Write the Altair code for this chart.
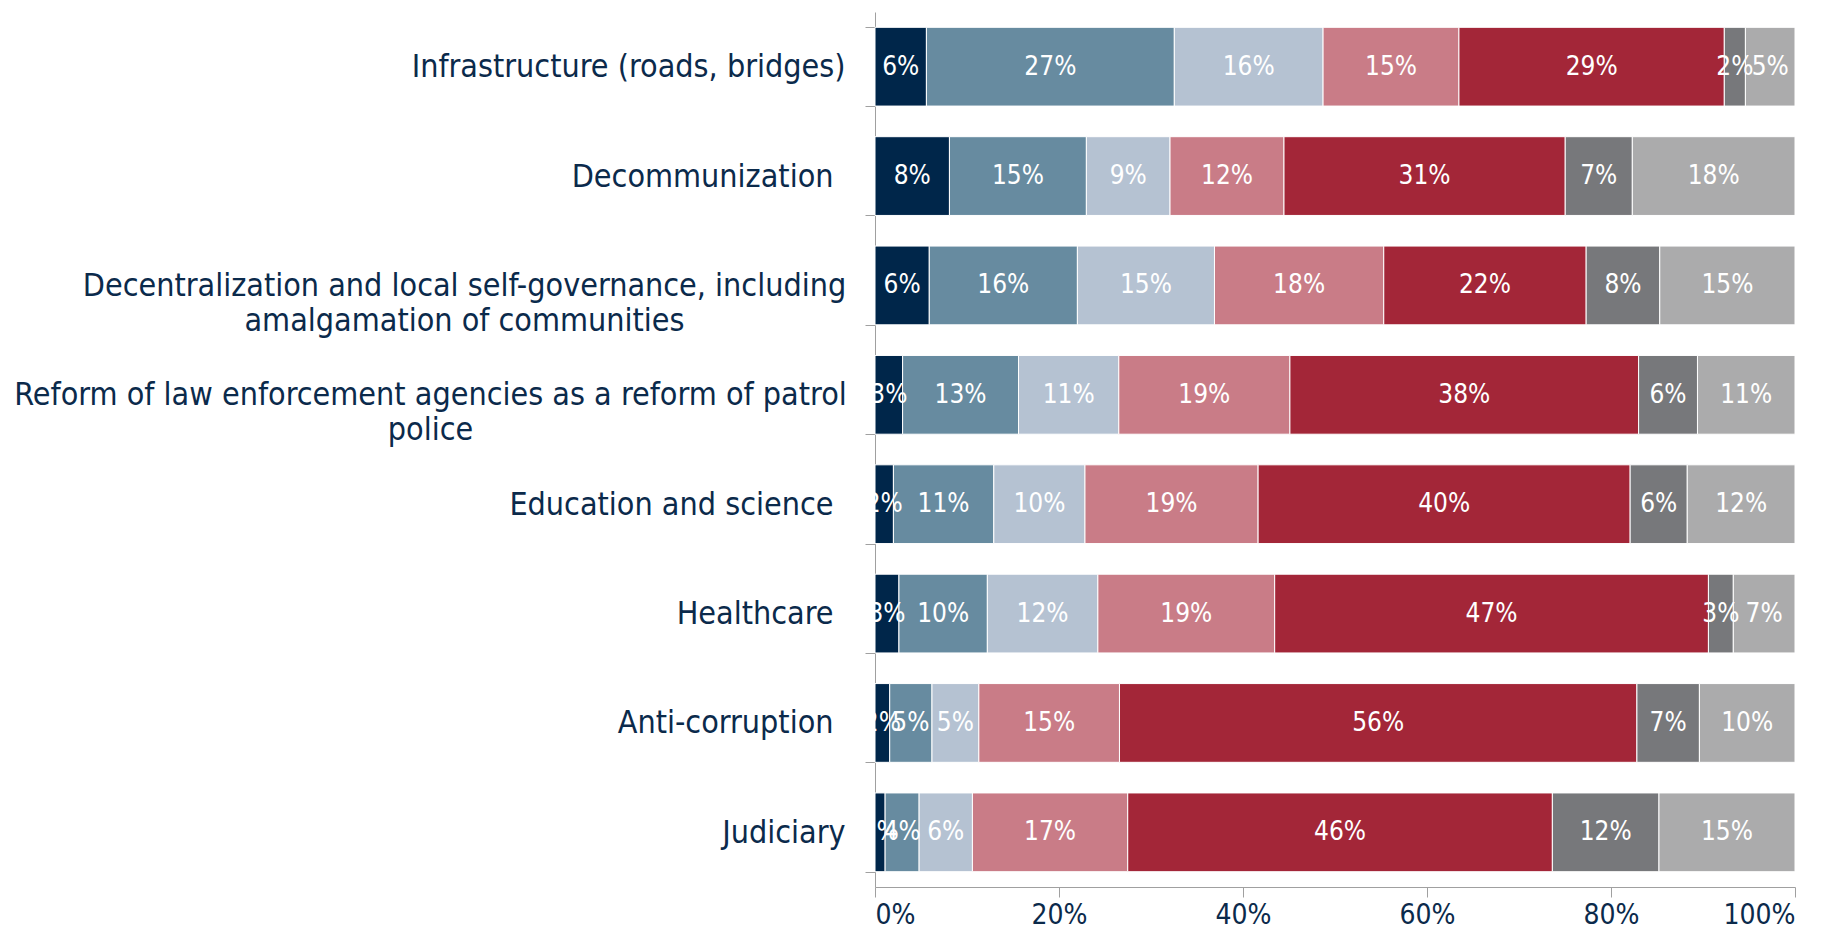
import json
import altair as alt
import pandas as pd

categories = [
    "Infrastructure (roads, bridges)",
    "Decommunization",
    "Decentralization and local self-governance, including amalgamation of communities",
    "Reform of law enforcement agencies as a reform of patrol police",
    "Education and science",
    "Healthcare",
    "Anti-corruption",
    "Judiciary",
]

series = [
    "Fully successful",
    "Rather successful",
    "Partially successful",
    "Rather unsuccessful",
    "Completely unsuccessful",
    "Not started",
    "Difficult to answer",
]

colors = ["#00264A", "#678BA0", "#B5C2D2", "#C97C87", "#A32638", "#77787B", "#ABABAC"]

infrastructure = [5.6, 27.0, 16.2, 14.8, 28.9, 2.3, 5.4]
decommunization = [8.1, 14.9, 9.1, 12.4, 30.6, 7.3, 17.7]
decentralization = [5.9, 16.1, 14.9, 18.4, 22.0, 8.0, 14.7]
law_enforcement = [3.0, 12.6, 10.9, 18.6, 37.9, 6.4, 10.6]
education = [2.0, 10.9, 9.9, 18.8, 40.4, 6.2, 11.7]
healthcare = [2.6, 9.6, 12.0, 19.2, 47.1, 2.7, 6.7]
anti_corruption = [1.6, 4.6, 5.1, 15.3, 56.3, 6.8, 10.4]
judiciary = [1.1, 3.7, 5.8, 16.9, 46.2, 11.6, 14.8]

x_ticks = [0, 0.2, 0.4, 0.6, 0.8, 1.0]

rows = [infrastructure, decommunization, decentralization, law_enforcement,
        education, healthcare, anti_corruption, judiciary]

records = []
for cat, vals in zip(categories, rows):
    for i, (s, v) in enumerate(zip(series, vals)):
        records.append({"cat": cat, "series": s, "idx": i, "value": v})
df = pd.DataFrame(records)

# wrapped category labels (two lines, centred under each other)
wrapped = {
    categories[2]: ["Decentralization and local self-governance, including",
                    "amalgamation of communities"],
    categories[3]: ["Reform of law enforcement agencies as a reform of patrol",
                    "police"],
}
expr = "datum.value"
for cat in reversed(list(wrapped.keys())):
    expr = f"datum.value == {json.dumps(cat)} ? {json.dumps(wrapped[cat])} : ({expr})"

# labels in the original carry a trailing space -> slightly larger padding
trailing = [categories[1], categories[4], categories[5], categories[6]]
pad_rules = [
    {"test": f"datum.value == {json.dumps(categories[2])}", "value": 401},
    {"test": f"datum.value == {json.dumps(categories[3])}", "value": 435},
] + [{"test": f"datum.value == {json.dumps(c)}", "value": 32} for c in trailing]
align_rules = [
    {"test": f"datum.value == {json.dumps(categories[2])}", "value": "center"},
    {"test": f"datum.value == {json.dumps(categories[3])}", "value": "center"},
]

FONT = "DejaVu Sans Condensed"
NAVY = "#0B2A4B"
GRAY = "#A0A0A0"

base = alt.Chart(df).transform_stack(
    stack="value",
    groupby=["cat"],
    as_=["x0", "x1"],
    offset="normalize",
    sort=[alt.SortField("idx", order="ascending")],
).transform_calculate(
    mid="(datum.x0 + datum.x1) / 2",
    label="format(datum.value, '.0f') + '%'",
)

y_enc = alt.Y(
    "cat:N",
    sort=categories,
    title=None,
    scale=alt.Scale(paddingInner=0.28),
    axis=alt.Axis(
        labelExpr=expr,
        labelFont=FONT,
        labelFontSize=32,
        labelColor=NAVY,
        labelLineHeight=35,
        labelLimit=0,
        labelPadding={"condition": pad_rules, "value": 20},
        labelAlign={"condition": align_rules, "value": "right"},
        tickBand="extent",
        tickSize=10,
        tickColor=GRAY,
        domainColor=GRAY,
    ),
)

bars = base.mark_bar(stroke="#FFFFFF", strokeWidth=1).encode(
    x=alt.X(
        "x0:Q",
        title=None,
        scale=alt.Scale(domain=[0, 1], nice=False),
        axis=alt.Axis(
            values=x_ticks,
            format=".0%",
            labelFont=FONT,
            labelFontSize=28,
            labelColor=NAVY,
            labelPadding=4,
            tickSize=10,
            tickColor=GRAY,
            domainColor=GRAY,
            grid=False,
        ),
    ),
    x2="x1:Q",
    y=y_enc,
    color=alt.Color("series:N", scale=alt.Scale(domain=series, range=colors), legend=None),
)

text = base.mark_text(
    color="white", font=FONT, fontSize=26, align="center", baseline="middle"
).encode(
    x=alt.X("mid:Q"),
    y=alt.Y("cat:N", sort=categories),
    text="label:N",
)

chart = (
    alt.layer(bars, text)
    .properties(
        width=920,
        height=875,
        autosize=alt.AutoSizeParams(type="none"),
        padding={"left": 867, "top": 4, "right": 36, "bottom": 48},
    )
    .configure_view(stroke=None)
)

chart.save("out.html", embed_options={"renderer": "svg", "actions": False})
